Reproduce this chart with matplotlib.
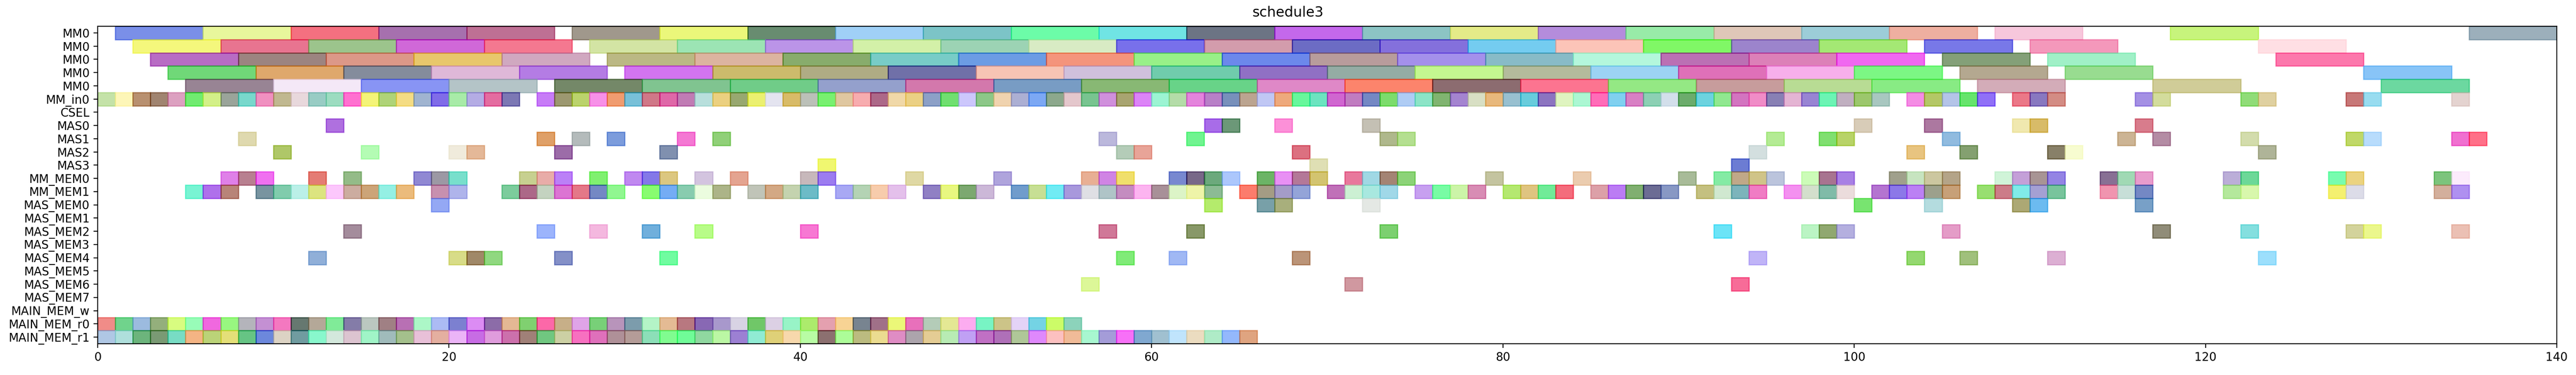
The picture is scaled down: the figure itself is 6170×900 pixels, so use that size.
import matplotlib
matplotlib.use("Agg")
import matplotlib.pyplot as plt
from matplotlib.colors import to_rgb
import numpy as np

TITLE = "schedule3"
ROW_LABELS = ["MM0", "MM0", "MM0", "MM0", "MM0", "MM_in0", "CSEL", "MAS0", "MAS1", "MAS2", "MAS3",
              "MM_MEM0", "MM_MEM1", "MAS_MEM0", "MAS_MEM1", "MAS_MEM2", "MAS_MEM3", "MAS_MEM4",
              "MAS_MEM5", "MAS_MEM6", "MAS_MEM7", "MAIN_MEM_w", "MAIN_MEM_r0", "MAIN_MEM_r1"]
X_TICKS = [0, 20, 40, 60, 80, 100, 120, 140]

MM_DUR = 5
UNIT_DUR = 1

MM0_A_START = [1, 6, 11, 16, 21, 27, 32, 37, 42, 47, 52, 57, 62, 67, 72, 77, 82, 87, 92, 97, 102, 108, 118, 135]
MM0_A_COLOR = ["#7a8fe8", "#e8f89c", "#f47080", "#a670ae", "#be7094", "#a0988c", "#ecf87a", "#688c70",
               "#a0d0f8", "#7cc4c8", "#6cfca8", "#70e4e4", "#6c7484", "#c468ec", "#8cc4c4", "#e4ec88",
               "#b48cdc", "#98eca8", "#e0c8b8", "#9ccdd8", "#eeb0a0", "#f8c8dc", "#c8f47c", "#9cb0bc"]

MM0_B_START = [2, 7, 12, 17, 22, 28, 33, 38, 43, 48, 53, 58, 63, 68, 73, 78, 83, 88, 93, 98, 104, 110, 123]
MM0_B_COLOR = ["#f4f87c", "#e87490", "#9cc48c", "#d068d8", "#f47890", "#d4e4a4", "#9ce4b4", "#bc94e8",
               "#d4f0a8", "#9cd4b4", "#d8ecc4", "#7870ec", "#d49cac", "#6c6cc4", "#8470dc", "#74ccf0",
               "#fcc4b8", "#80f864", "#9c84cc", "#a4e874", "#7878e8", "#f498bc", "#ffe0e4"]

MM0_C_START = [3, 8, 13, 18, 23, 29, 34, 39, 44, 49, 54, 59, 64, 69, 74, 79, 84, 89, 94, 99, 105, 111, 124]
MM0_C_COLOR = ["#b86cc4", "#9c8480", "#dc9888", "#e8c86c", "#d0a8c0", "#bcb884", "#dcb4a0", "#88ac6c",
               "#78ccc8", "#6c9ce4", "#f4947c", "#98f088", "#6c88ec", "#b89c9c", "#a490ec", "#88bcc8",
               "#b4f8dc", "#bc70b4", "#dc80b8", "#f068f0", "#84a078", "#a0f0c8", "#fc78ac"]

MM0_D_START = [4, 9, 14, 19, 24, 30, 35, 40, 45, 50, 55, 60, 65, 70, 75, 80, 85, 90, 95, 100, 106, 112, 129]
MM0_D_COLOR = ["#70d878", "#e0a86c", "#848c9c", "#e0b8d8", "#b47ce4", "#d474f0", "#ccbc6c", "#b0ac84",
               "#7070a8", "#f8c4b4", "#d0c0dc", "#70ccac", "#9070c4", "#94aca4", "#c4f890", "#b4bc9c",
               "#9cd4f4", "#e070b8", "#f8b0ec", "#7cf884", "#b4a890", "#98dc90", "#88c4f8"]

MM0_E_START = [5, 10, 15, 20, 26, 31, 36, 41, 46, 51, 56, 61, 66, 71, 76, 81, 86, 91, 96, 101, 107, 117, 130]
MM0_E_COLOR = ["#988494", "#f4e8f8", "#8894f4", "#b4c4c8", "#748868", "#80c490", "#70cc88", "#94a0cc",
               "#d478ac", "#789cc4", "#88b874", "#68d488", "#e088c8", "#fc846c", "#8c6c70", "#fc7490",
               "#94e884", "#c89c9c", "#b8dc94", "#88ec84", "#d4acb8", "#d0cc98", "#6cd8a0"]

MM_IN0_START = [0, 1, 2, 3, 4, 5, 6, 7, 8, 9, 10, 11, 12, 13, 14, 15, 16, 17, 18, 19, 20, 21, 22, 23,
                25, 26, 27, 28, 29, 30, 31, 32, 33, 34, 35, 36, 37, 38, 39, 40, 41, 42, 43, 44, 45, 46,
                47, 48, 49, 50, 51, 52, 53, 54, 55, 56, 57, 58, 59, 60, 61, 62, 63, 64, 65, 66, 67, 68,
                69, 70, 71, 72, 73, 74, 75, 76, 77, 78, 79, 80, 81, 82, 83, 84, 85, 86, 87, 88, 89, 90,
                91, 92, 93, 94, 95, 96, 97, 98, 99, 100, 101, 103, 104, 105, 106, 107, 109, 110, 111,
                116, 117, 122, 123, 128, 129, 134]
MM_IN0_COLOR = ["#c5e3a8", "#fef6b8", "#b89070", "#a08470", "#dca0c0", "#70ec70", "#d4f088", "#9aa49a",
                "#78d8cc", "#f090c0", "#c0b890", "#e8d8dc", "#98ccc4", "#9cdcc0", "#ff70d0", "#f4f478",
                "#b0d478", "#f4dc84", "#a0b4d0", "#806ce8", "#a8eca8", "#b4ace4", "#e46ca0", "#7c78b4",
                "#c87cf8", "#9c9870", "#bcd46c", "#f890e8", "#f09c70", "#78c0d8", "#d07888", "#e068a8",
                "#c07cb4", "#b8e0dc", "#ecd080", "#98a870", "#ecf070", "#e4e4f0", "#d8bc68", "#bcc0b8",
                "#78f070", "#e0c8a0", "#f8acb0", "#ac6888", "#f0d8a8", "#ecd084", "#8ca0c8", "#70e070",
                "#ccc8fc", "#8cc888", "#f0d4b0", "#acb0d4", "#7ca8f4", "#8ca88c", "#e4c8cc", "#78c490",
                "#d090dc", "#a8a470", "#dc84f8", "#9cf4d4", "#b4dca8", "#e484dc", "#b880c8", "#7890bc",
                "#bca490", "#c0c8f4", "#eeaa7c", "#68f89c", "#6ce4c0", "#d060d0", "#c07cc0", "#7488c4",
                "#7cdc6c", "#b0ccf4", "#8ce4c8", "#80b470", "#a484d0", "#d8e0c4", "#e8b87c", "#98c0d0",
                "#68ccdc", "#8c74c0", "#e0f4c0", "#acf8d4", "#ff6cb8", "#80d0f0", "#d880c4", "#8cd0b4",
                "#d4e0ec", "#6cac6c", "#6cd4e0", "#90e890", "#d474c0", "#f08cc8", "#8880b4", "#e4b4d4",
                "#9884d4", "#6cf4b4", "#c0b0c0", "#9cc86c", "#a8c8c0", "#f48ce4", "#b4c864", "#b4c4e8",
                "#64e46c", "#9070f8", "#ec7888", "#8878c0", "#d48c84", "#a490e4", "#d4dc9c", "#90dc78",
                "#e0d0a0", "#c87878", "#98dcf0", "#e4d4d0"]

CSEL_START = []
CSEL_COLOR = []

MAS0_START = [13, 63, 64, 67, 72, 100, 104, 109, 110, 116]
MAS0_COLOR = ["#b070e0", "#a86ce8", "#6c9878", "#fc90d8", "#c4c0b4", "#d8ccb8", "#ac78a0", "#f0e8b0",
              "#d8bc68", "#d87c8c"]

MAS1_START = [8, 25, 27, 29, 33, 35, 57, 62, 73, 74, 95, 98, 99, 105, 115, 117, 122, 128, 129, 134, 135]
MAS1_COLOR = ["#e0dab0", "#e0a068", "#b4bcbc", "#7c9cdc", "#f478d4", "#90d078", "#bcb8dc", "#70f490",
              "#b0b88c", "#b4e090", "#b4ec94", "#80e070", "#b8d468", "#90bce0", "#ccb494", "#b48ca4",
              "#d4dcac", "#c0d868", "#b8dcfc", "#f070d0", "#ff7088"]

MAS2_START = [10, 15, 20, 21, 26, 32, 58, 59, 68, 94, 103, 106, 111, 112, 123]
MAS2_COLOR = ["#b0c868", "#b4fcb4", "#f0ecdc", "#e4b898", "#9c6ca8", "#8090b0", "#b4ccb8", "#e8a498",
              "#dc7080", "#d4e0e0", "#e8c480", "#84a070", "#888068", "#f8fcd0", "#b0b498"]

MAS3_START = [41, 69, 93]
MAS3_COLOR = ["#f0f870", "#e0e0b4", "#6c7cd4"]

MM_MEM0_START = [7, 8, 9, 12, 14, 18, 19, 20, 24, 25, 26, 28, 30, 31, 32, 34, 36, 40, 41, 46, 51, 56, 57,
                 58, 61, 62, 63, 64, 66, 67, 68, 69, 71, 72, 73, 74, 79, 84, 90, 92, 93, 94, 95, 97, 98,
                 99, 102, 103, 104, 105, 108, 109, 110, 111, 114, 115, 116, 121, 122, 127, 128, 133, 134]
MM_MEM0_COLOR = ["#e080e8", "#b88090", "#f070f0", "#e47c74", "#94bc88", "#9088d4", "#9c98a4", "#78e0cc",
                 "#c8d090", "#e8aca8", "#bc80f8", "#80f070", "#c088f0", "#8478e8", "#dcc880", "#d4c4e0",
                 "#e4a490", "#c8b8bc", "#9c7cf0", "#e0d8a4", "#b0a4dc", "#e8b094", "#d084e4", "#f0e06c",
                 "#7888d0", "#786888", "#6caa7c", "#acc8fc", "#6cb464", "#e890f4", "#b47898", "#d4c470",
                 "#e8789c", "#a0d8e4", "#a48474", "#8cd478", "#c4c4a0", "#ecccb0", "#a8bc98", "#84eca4",
                 "#c0a888", "#d0c488", "#bcc4dc", "#ccfcb8", "#a87490", "#a880e4", "#a0a08c", "#c8e4c0",
                 "#ccc8a0", "#b4a488", "#d0f4d8", "#c4a0d8", "#a89494", "#9484e4", "#887094", "#a0dab4",
                 "#e89ccc", "#bcaed8", "#6cd898", "#78fcb0", "#ecd480", "#7cc47c", "#fcecfc"]

MM_MEM1_START = [5, 6, 7, 9, 10, 11, 12, 13, 14, 15, 16, 17, 19, 20, 23, 24, 25, 26, 27, 28, 29, 31, 32,
                 33, 34, 35, 37, 38, 39, 40, 42, 43, 44, 45, 47, 48, 49, 50, 52, 53, 54, 55, 56, 57, 58,
                 59, 60, 61, 62, 63, 65, 66, 67, 68, 70, 71, 72, 73, 75, 76, 77, 78, 80, 81, 82, 83, 85,
                 86, 87, 88, 89, 91, 92, 93, 94, 96, 97, 98, 99, 101, 102, 103, 104, 105, 107, 108, 109,
                 110, 111, 114, 115, 116, 121, 122, 127, 128, 133, 134]
MM_MEM1_COLOR = ["#78f4d4", "#b070ec", "#b88478", "#7894a0", "#80ccac", "#bcf0e8", "#dce480", "#fcc8fc",
                 "#ccaca0", "#cca478", "#94f0e4", "#ecbc7c", "#c890b0", "#b0b4ec", "#7ccc9c", "#ac6888",
                 "#c4d4c0", "#dc74d4", "#e47888", "#7488c4", "#90f890", "#88fc70", "#74acf4", "#88ccb0",
                 "#ecfce0", "#acb488", "#c0c4b8", "#d4a884", "#c4d4b0", "#6cbcc8", "#a8a8f4", "#b4d4b4",
                 "#f8ccac", "#e4c0ec", "#9080c4", "#e8f880", "#7ca870", "#ccb8d8", "#709ccc", "#c8e094",
                 "#70ecf4", "#a898dc", "#e0e0e4", "#b0c4c8", "#c48cc0", "#fcb4f0", "#a89098", "#dcf4c8",
                 "#eef4a8", "#8cbc94", "#fc7c6c", "#a49c84", "#a49cc8", "#94a4d8", "#c070b8", "#ccf0d4",
                 "#a8e8e0", "#a0d8e8", "#c8a0f0", "#78fca4", "#ccf4a8", "#d88cb4", "#b4e870", "#e0c480",
                 "#70ec98", "#f46c7c", "#dca0a8", "#bc7cf4", "#80b070", "#6c6c94", "#8898c4", "#c4c080",
                 "#d0e8d0", "#7cb4bc", "#f07cc4", "#f490f0", "#d4e0cc", "#80bca8", "#ecdcdc", "#b474d0",
                 "#8c78e8", "#bc80f4", "#9ca08c", "#c8a078", "#98e070", "#cc7c88", "#80ece8", "#a4a0d4",
                 "#78c49c", "#f094b0", "#c8e0d8", "#7488c4", "#b4e89c", "#d8f8ac", "#f4f070", "#dcdce8",
                 "#d4b09c", "#b090f0"]

MAS_MEM0_START = [19, 63, 66, 67, 72, 100, 104, 109, 110, 116]
MAS_MEM0_COLOR = ["#94a8f4", "#b4ec6c", "#78a0a8", "#a8b07c", "#e4e8e4", "#78e470", "#b4dce0", "#aca874",
                  "#6cbcf0", "#78a0c8"]

MAS_MEM2_START = [14, 25, 28, 31, 34, 40, 57, 62, 73, 92, 97, 98, 99, 105, 117, 122, 128, 129, 134]
MAS_MEM2_COLOR = ["#a48c9c", "#9cb4fc", "#f4b8e0", "#70b0dc", "#b8fc88", "#f878d4", "#d07898", "#889868",
                  "#7cd070", "#6ce4f8", "#bcf4c4", "#90a870", "#b4b0e0", "#e49cc8", "#908c78", "#84e0e0",
                  "#d4d49c", "#ecf88c", "#ecc0b4"]

MAS_MEM4_START = [12, 20, 21, 22, 26, 32, 58, 61, 68, 94, 103, 106, 111, 123]
MAS_MEM4_COLOR = ["#90b0d8", "#d8dc88", "#a08868", "#90d880", "#8490c8", "#70fca0", "#80ec78", "#a0b8f4",
                  "#bc9478", "#c0b4f8", "#94d870", "#a0c07c", "#dcb0d4", "#9ce0fc"]

MAS_MEM6_START = [56, 71, 93]
MAS_MEM6_COLOR = ["#dcf898", "#d098a0", "#f86c98"]

MAIN_MEM_R0_START = [0, 1, 2, 3, 4, 5, 6, 7, 8, 9, 10, 11, 12, 13, 14, 15, 16, 17, 18, 19, 20, 21, 22, 23,
                     24, 25, 26, 27, 28, 29, 30, 31, 32, 33, 34, 35, 36, 37, 38, 39, 40, 41, 42, 43, 44,
                     45, 46, 47, 48, 49, 50, 51, 52, 53, 54, 55]
MAIN_MEM_R0_COLOR = ["#f08c88", "#70d48c", "#9cbce0", "#94b07c", "#d8fc80", "#98fcb8", "#f068e0", "#98f880",
                     "#b4b4bc", "#c490d4", "#f478c0", "#647870", "#b4a898", "#80ec98", "#847ca8", "#bcc8c0",
                     "#a08084", "#b870b4", "#acf8c8", "#acbcf4", "#7c80d0", "#dc8cf4", "#8c6ca8", "#e4b894",
                     "#80d070", "#fc68a8", "#c8b088", "#e0a4e8", "#78d078", "#b894bc", "#7c9cac", "#b4f4c8",
                     "#e4bc94", "#b87880", "#8868b4", "#a898cc", "#d8d4e4", "#70c868", "#dcd0e4", "#98f4c8",
                     "#acec6c", "#e4a0b0", "#f8d494", "#788490", "#a07088", "#ecf878", "#e870bc", "#b4ccb8",
                     "#e4e894", "#fcacf0", "#78f4c4", "#ccc488", "#e4d4f8", "#74d4e4", "#ccfc68", "#8cd4bc"]

MAIN_MEM_R1_START = [0, 1, 2, 3, 4, 5, 6, 7, 8, 9, 10, 11, 12, 13, 14, 15, 16, 17, 18, 19, 20, 21, 22, 23,
                     24, 25, 26, 27, 28, 29, 30, 31, 32, 33, 34, 35, 36, 37, 38, 39, 40, 41, 42, 43, 44,
                     45, 46, 47, 48, 49, 50, 51, 52, 53, 54, 55, 56, 57, 58, 59, 60, 61, 62, 63, 64, 65]
MAIN_MEM_R1_COLOR = ["#b0c8e4", "#b0e0dc", "#6cb47c", "#7a9a74", "#78dcc4", "#f4b484", "#bcd478", "#e4e078",
                     "#64c484", "#6c88dc", "#dcd4c4", "#709ca0", "#88f8cc", "#d4e8dc", "#dcc4d0", "#a0f4c8",
                     "#a0bcbc", "#a4c08c", "#e8c0d8", "#e4b0a0", "#ecb4f8", "#c86ce4", "#e09cdc", "#cc70ac",
                     "#a08078", "#70c880", "#ccd0a4", "#f870c0", "#e070bc", "#b09098", "#b49c98", "#8ce0b8",
                     "#80fc90", "#70fc98", "#90d8a0", "#bcf8a4", "#9c80d4", "#90ecd4", "#e0d078", "#f8d8ac",
                     "#b8fca4", "#8c7070", "#acfc98", "#bcbc80", "#ecdc90", "#e08cc4", "#aca4ac", "#e4cc94",
                     "#b8ecb4", "#c0a0f4", "#c070c4", "#b070b8", "#b0c898", "#e088fc", "#fcc0c0", "#f0bc98",
                     "#a8f8d0", "#a49cd8", "#f870f8", "#80a8d0", "#a0c0d0", "#c0e4fc", "#ecdcc0", "#b0ecc8",
                     "#94b8fc", "#e0a480"]

ROWS = [
    (0, MM0_A_START, MM0_A_COLOR, MM_DUR),
    (1, MM0_B_START, MM0_B_COLOR, MM_DUR),
    (2, MM0_C_START, MM0_C_COLOR, MM_DUR),
    (3, MM0_D_START, MM0_D_COLOR, MM_DUR),
    (4, MM0_E_START, MM0_E_COLOR, MM_DUR),
    (5, MM_IN0_START, MM_IN0_COLOR, UNIT_DUR),
    (6, CSEL_START, CSEL_COLOR, UNIT_DUR),
    (7, MAS0_START, MAS0_COLOR, UNIT_DUR),
    (8, MAS1_START, MAS1_COLOR, UNIT_DUR),
    (9, MAS2_START, MAS2_COLOR, UNIT_DUR),
    (10, MAS3_START, MAS3_COLOR, UNIT_DUR),
    (11, MM_MEM0_START, MM_MEM0_COLOR, UNIT_DUR),
    (12, MM_MEM1_START, MM_MEM1_COLOR, UNIT_DUR),
    (13, MAS_MEM0_START, MAS_MEM0_COLOR, UNIT_DUR),
    (15, MAS_MEM2_START, MAS_MEM2_COLOR, UNIT_DUR),
    (17, MAS_MEM4_START, MAS_MEM4_COLOR, UNIT_DUR),
    (19, MAS_MEM6_START, MAS_MEM6_COLOR, UNIT_DUR),
    (22, MAIN_MEM_R0_START, MAIN_MEM_R0_COLOR, UNIT_DUR),
    (23, MAIN_MEM_R1_START, MAIN_MEM_R1_COLOR, UNIT_DUR),
]

ALPHA = 0.6


def base_color(hexcol):
    """Undo the alpha blend over white to get the drawing colour."""
    rgb = np.array(to_rgb(hexcol))
    return tuple(np.clip((rgb - (1 - ALPHA)) / ALPHA, 0, 1))


W, H, DPI = 6170, 900, 200
fig = plt.figure(figsize=(W / DPI, H / DPI), dpi=DPI)
ax = fig.add_axes([234 / W, 75 / H, (6124 - 234) / W, (825 - 63) / H])

for row, starts, colors, dur in ROWS:
    for s, c in zip(starts, colors):
        bc = base_color(c)
        ax.barh(row, dur, left=s, height=1.0, color=bc, alpha=ALPHA,
                edgecolor=bc, linewidth=1.0)

ax.set_yticks(range(len(ROW_LABELS)))
ax.set_yticklabels(ROW_LABELS, fontsize=10)
ax.set_ylim(len(ROW_LABELS) - 0.5, -0.5)
ax.set_xlim(0, 140)
ax.set_xticks(X_TICKS)
ax.tick_params(axis="x", labelsize=10)
fig.suptitle(TITLE, x=0.5, y=0.985, fontsize=12, va="top")

fig.savefig("out.png", dpi=DPI)
